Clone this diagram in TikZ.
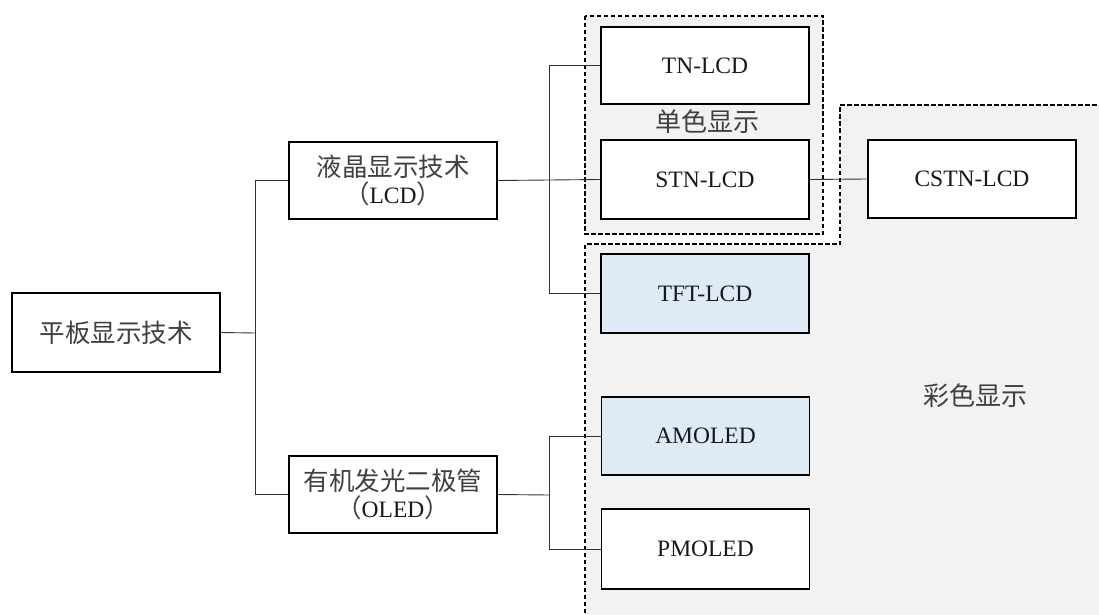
\documentclass[tikz,border=0pt]{standalone}
\usepackage{fontspec}
\setmainfont{Liberation Serif}
\newfontfamily\cjk{Noto Sans CJK SC}
\definecolor{regiongray}{HTML}{F2F2F2}
\definecolor{lightblue}{HTML}{DEEAF6}
\definecolor{cntext}{HTML}{404040}
\tikzset{
  box/.style={draw=black, line width=1.7pt, fill=white, rectangle, minimum width=208pt, minimum height=78pt, inner sep=0pt, align=center, font=\fontsize{23.5}{27.5}\selectfont, text=black!90},
  bluebox/.style={box, fill=lightblue},
  link/.style={draw=black!80, line width=0.9pt},
  region/.style={draw=black, line width=1.5pt, dash pattern=on 4.5pt off 2.5pt},
  cnlabel/.style={font=\cjk\fontsize{26}{30}\selectfont, text=cntext, inner sep=0pt}
}
\newcommand{\cn}[1]{{\cjk\fontsize{25.5}{27.5}\selectfont\color{cntext}#1}}
\begin{document}
\begin{tikzpicture}[x=1pt,y=-1pt]
\useasboundingbox (0,0) rectangle (1099,615);
% colour region
\fill[regiongray] (585,620) -- (585,244) -- (840,244) -- (840,105) -- (1105,105) -- (1105,620) -- cycle;
\draw[region] (585,620) -- (585,244) -- (840,244) -- (840,105) -- (1105,105);
% monochrome region
\draw[region, fill=regiongray] (585,16) rectangle (823,234);
\node[cnlabel] (mono) at (707,122) {单色显示};
\node[cnlabel] (color) at (975,396) {彩色显示};
% nodes
\node[box, minimum height=79pt] (top) at (116,332.5) {\cn{平板显示技术}};
\node[box, minimum height=77pt] (lcd) at (393,180.5) {\cn{液晶显示技术}\\\cn{（}LCD\cn{）}};
\node[box, minimum height=77pt] (oled) at (393,494.5) {\cn{有机发光二极管}\\\cn{（}OLED\cn{）}};
\node[box, minimum height=77pt] (tn) at (705,65.5) {TN-LCD};
\node[box, minimum height=79pt] (stn) at (705,179.5) {STN-LCD};
\node[bluebox, minimum height=79pt] (tft) at (705,293.5) {TFT-LCD};
\node[bluebox] (amoled) at (705.5,436) {AMOLED};
\node[box, minimum height=80pt] (pmoled) at (705.5,549) {PMOLED};
\node[box] (cstn) at (972,179) {CSTN-LCD};
% junctions
\coordinate (j1) at (255,333);
\coordinate (j2) at (549,180);
\coordinate (j3) at (549,495);
% connectors
\draw[link] (top.east) -- (j1);
\draw[link] (lcd.west) -| (j1);
\draw[link] (oled.west) -| (j1);
\draw[link] (lcd.east) -- (j2);
\draw[link] (tn.west) -| (j2);
\draw[link] (stn.west) -- (j2);
\draw[link] (tft.west) -| (j2);
\draw[link] (oled.east) -- (j3);
\draw[link] (amoled.west) -| (j3);
\draw[link] (pmoled.west) -| (j3);
\draw[link] (stn.east) -- (cstn.west);
\end{tikzpicture}
\end{document}
